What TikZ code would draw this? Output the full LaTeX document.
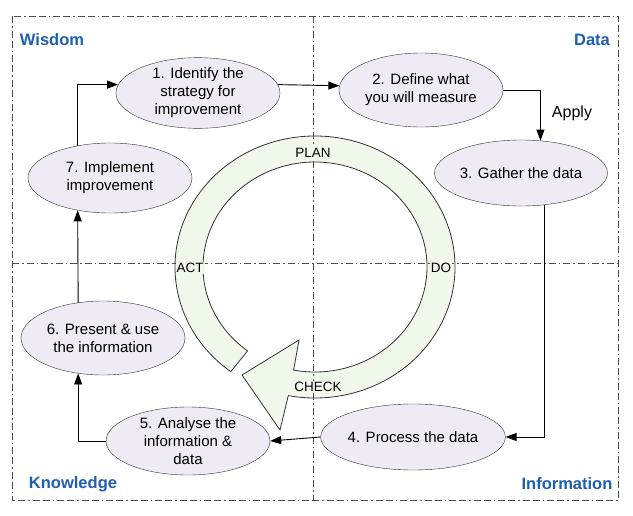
\documentclass[tikz,border=0pt]{standalone}
\usepackage{fontspec}
\setmainfont{Liberation Sans}
\usetikzlibrary{calc,arrows.meta,shapes.geometric}
\definecolor{nodefill}{HTML}{EFEBF5}
\definecolor{ringfill}{HTML}{F0F8EC}
\definecolor{cornerblue}{HTML}{1F5FAF}
\begin{document}
\begin{tikzpicture}[x=1pt,y=1pt,
  stepnode/.style={draw=black!80,fill=nodefill,ellipse,minimum width=164pt,minimum height=70pt,inner sep=0pt,align=center,font=\fontsize{15}{18}\selectfont},
  arr/.style={draw=black,line width=0.9pt,-{Triangle[length=11pt,width=8pt]}},
  axis/.style={draw=black!70,line width=0.7pt,dash pattern=on 7pt off 3pt on 1.5pt off 3pt},
  corner/.style={text=cornerblue,font=\bfseries\fontsize{16.5}{18}\selectfont},
  cyc/.style={font=\fontsize{13.5}{15}\selectfont}]
\useasboundingbox (0,0) rectangle (633,-515);
\fill[white] (0,0) rectangle (633,-515);
% frame
\draw[axis,dash pattern=on 7pt off 3pt on 1.5pt off 3pt on 7pt off 3pt] (12,-16) rectangle (618,-500);
% ring
\coordinate (c) at (315,-267);
\draw[black!80,line width=0.8pt,fill=ringfill]
  ($(c)+(233:140 and 131)$) arc[start angle=233,end angle=-101,x radius=140,y radius=131]
  -- (280,-430) -- (242,-375) -- (299,-340)
  -- ($(c)+(-101:112 and 105)$) arc[start angle=-101,end angle=233,x radius=112,y radius=105]
  -- cycle;
% axes
\draw[axis] (313,-16) -- (313,-500);
\draw[axis] (12,-263) -- (618,-263);
\node[cyc,fill=ringfill,inner sep=1pt] (plan) at (313,-153) {PLAN};
\node[cyc,fill=ringfill,inner sep=1pt] (do) at (441,-268) {DO};
\node[cyc,fill=ringfill,inner sep=1pt] (check) at (318,-387) {CHECK};
\node[cyc,fill=ringfill,inner sep=1pt] (act) at (190,-268) {ACT};
% nodes
\node[stepnode] (n1) at (198,-93) {1. Identify the\\strategy for\\improvement};
\node[stepnode,minimum height=74pt] (n2) at (421,-90) {2. Define what\\you will measure};
\node[stepnode,minimum height=66pt] (n3) at (521,-173) {3. Gather the data};
\node[stepnode,minimum height=66pt] (n4) at (413,-437) {4. Process the data};
\node[stepnode,minimum height=68pt] (n5) at (188,-441) {5. Analyse the\\information \&\\data};
\node[stepnode,minimum height=74pt] (n6) at (103,-338) {6. Present \& use\\the information};
\node[stepnode] (n7) at (110,-178) {7. Implement\\improvement};
% connectors
\draw[arr] (n7.135) |- (n1.174);
\draw[arr] (n1.6) -- (n2.177);
\draw[arr] (n2.east) -| (n3.59);
\node[font=\fontsize{16}{18}\selectfont] (apply) at (572,-113) {Apply};
\draw[arr] (n3.306) |- (n4.east);
\draw[arr] (n4.west) -- (n5.east);
\draw[arr] (n5.west) -| (n6.235);
\draw[arr] (n6.125) -- (n7.225);
% corners
\node[corner] (wis) at (52,-40) {Wisdom};
\node[corner] (dat) at (592,-40) {Data};
\node[corner] (kno) at (73,-484) {Knowledge};
\node[corner] (inf) at (567,-484) {Information};
\end{tikzpicture}
\end{document}
